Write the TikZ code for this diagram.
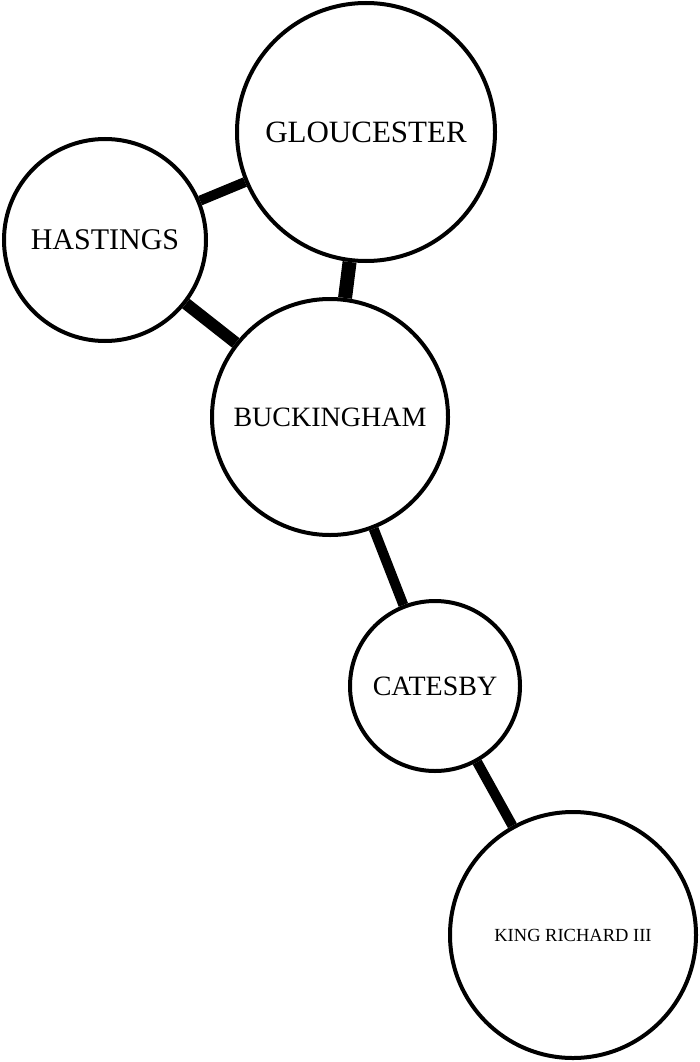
\documentclass[tikz,border=0pt]{standalone}
\usepackage{fontspec}
\setmainfont{Liberation Serif}
\begin{document}
\begin{tikzpicture}[x=1pt,y=-1pt,
  person/.style={draw,circle,line width=4pt,inner sep=0pt,fill=white},
  tie/.style={line width=#1}]
  \useasboundingbox (0,0) rectangle (700,1062);

  \node[person,minimum size=258pt,font=\fontsize{31}{31}\selectfont] (glo) at (366,132) {GLOUCESTER};
  \node[person,minimum size=202pt,font=\fontsize{30}{30}\selectfont] (has) at (105,240) {HASTINGS};
  \node[person,minimum size=236pt,font=\fontsize{28}{28}\selectfont] (buc) at (330,417) {BUCKINGHAM};
  \node[person,minimum size=170pt,font=\fontsize{28}{28}\selectfont] (cat) at (435,686) {CATESBY};
  \node[person,minimum size=246pt,font=\fontsize{18.5}{18.5}\selectfont] (kin) at (573,935) {KING RICHARD III};

  % ties
  \draw[tie=10pt] (has) -- (glo);
  \draw[tie=12pt] (has) -- (buc);
  \draw[tie=14pt] (glo) -- (buc);
  \draw[tie=10pt] (buc) -- (cat);
  \draw[tie=10pt] (cat) -- (kin);

\end{tikzpicture}
\end{document}
